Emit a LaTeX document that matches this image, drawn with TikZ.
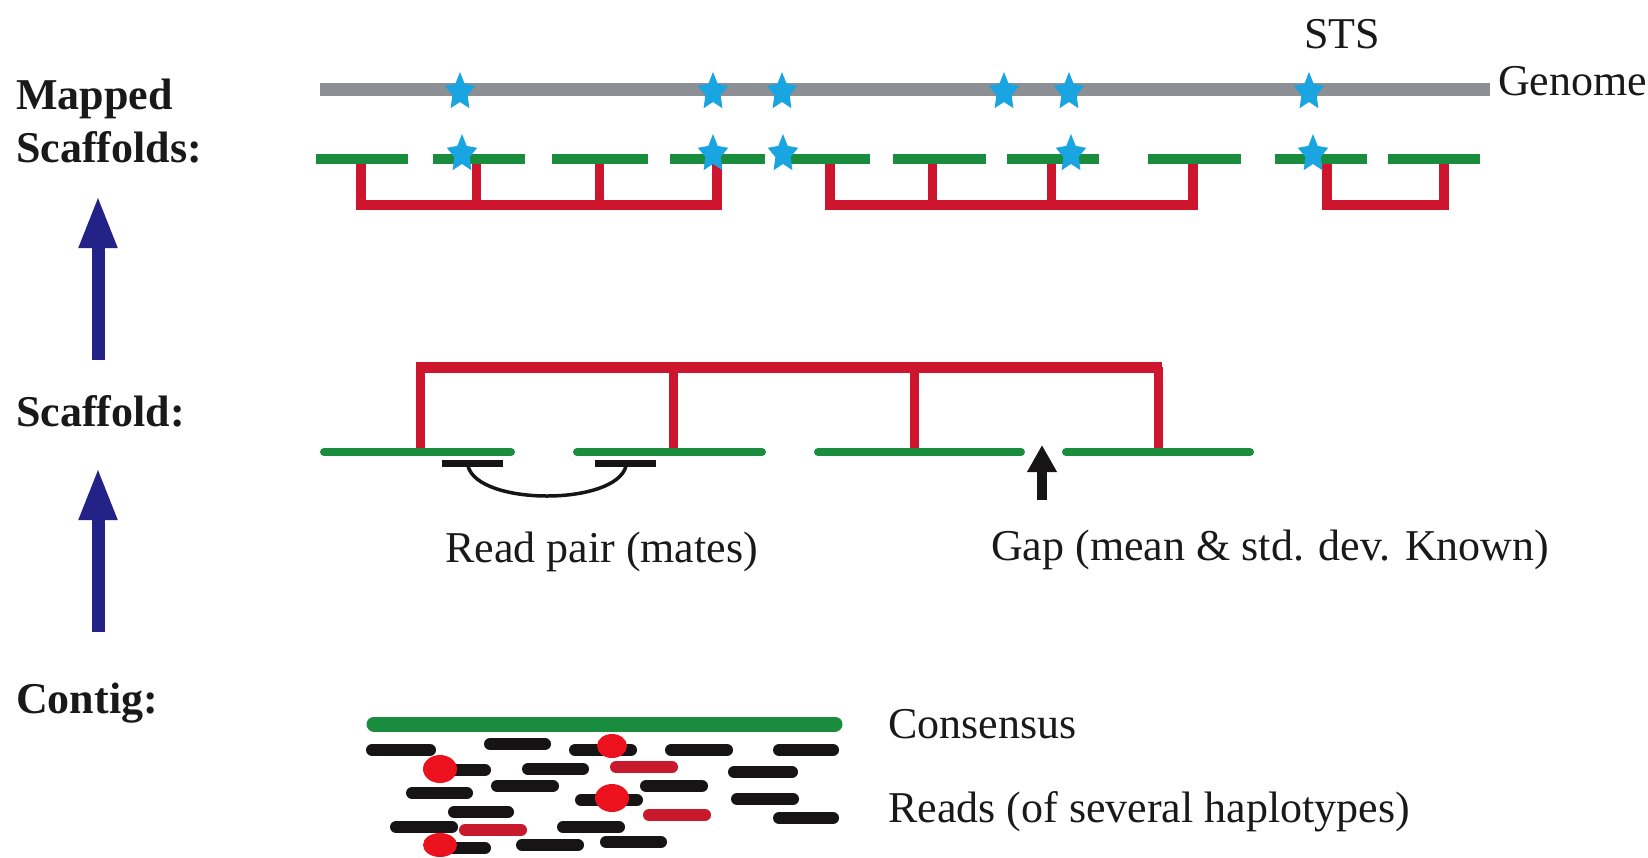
\documentclass[tikz,border=0pt]{standalone}
\usepackage{fontspec}
\setmainfont{Liberation Serif}
\usetikzlibrary{arrows.meta}
\definecolor{genomegray}{RGB}{140,143,148}
\definecolor{contiggreen}{RGB}{25,140,62}
\definecolor{linkred}{RGB}{205,22,45}
\definecolor{starblue}{RGB}{25,165,225}
\definecolor{navyblue}{RGB}{35,35,135}
\definecolor{readblack}{RGB}{22,20,20}
\definecolor{readred}{RGB}{200,25,45}
\definecolor{dotred}{RGB}{235,18,30}
\definecolor{textblack}{RGB}{25,25,25}
\tikzset{
  pics/ststar/.style={code={
    \fill[starblue] (-90:1) -- (-54:0.5) -- (-18:1) -- (18:0.5) -- (54:1)
      -- (90:0.5) -- (126:1) -- (162:0.5) -- (198:1) -- (234:0.5) -- cycle;}},
  txt/.style={inner sep=0pt, anchor=base west, font=\fontsize{44}{53}\selectfont, text=textblack},
  btxt/.style={txt, font=\fontsize{44}{53}\selectfont\bfseries},
  genomeline/.style={line width=13pt, draw=genomegray},
  segtop/.style={line width=10pt, draw=contiggreen},
  segmid/.style={line width=8pt, draw=contiggreen, line cap=round},
  linkv/.style={line width=9pt, draw=linkred},
  linkh/.style={line width=10pt, draw=linkred, line join=miter},
  matebar/.style={line width=7pt, draw=readblack},
  readk/.style={line width=12pt, draw=readblack, line cap=round},
  readr/.style={line width=12pt, draw=readred, line cap=round},
  reddot/.style={fill=dotred},
  uparrow/.style={line width=13pt, draw=navyblue, -{Triangle[length=53pt,width=35pt]}},
  gaparrow/.style={line width=10pt, draw=readblack, -{Triangle[length=27pt,width=28pt]}},
}
\begin{document}
\begin{tikzpicture}[x=1pt,y=-1pt]
\useasboundingbox (0,0) rectangle (1648,857);

% ---------- left labels ----------
\node[btxt] (mapped) at (16,109) {Mapped};
\node[btxt] (mappedscaf) at (16,162) {Scaffolds:};
\node[btxt] (scaffold) at (16,426) {Scaffold:};
\node[btxt] (contig) at (16,713) {Contig:};

\coordinate (up1s) at (98,360);
\coordinate (up1e) at (98,195);
\coordinate (up2s) at (98,632);
\coordinate (up2e) at (98,467);
\draw[uparrow] (up1s) -- (up1e);
\draw[uparrow] (up2s) -- (up2e);

% ---------- mapped scaffolds ----------
\node[txt, anchor=base] (sts) at (1342,48) {STS};
\coordinate (gs) at (320,89);
\coordinate (ge) at (1490,89);
\draw[genomeline] (gs) -- (ge);
\node[txt] (genome) at (1498,95) {Genome};

% links (red brackets)
\draw[linkh] (361,158) -- (361,205) -- (717,205) -- (717,158);
\draw[linkv] (476,158) -- (476,205);
\draw[linkv] (599,158) -- (599,205);
\draw[linkh] (830,158) -- (830,205) -- (1193,205) -- (1193,158);
\draw[linkv] (932,158) -- (932,205);
\draw[linkv] (1051,158) -- (1051,205);
\draw[linkh] (1327,158) -- (1327,205) -- (1444,205) -- (1444,158);

% contig segments
\foreach \a/\b in {316/408,433/525,552/648,670/765,785/870,893/986,1007/1099,1148/1241,1275/1367,1388/1480}
  \draw[segtop] (\a,159) -- (\b,159);

% STS stars
\foreach \x in {460,713,782,1004,1069,1309}
  \pic[xscale=16,yscale=20] at (\x,92) {ststar};
\foreach \x in {462,713,783,1071,1313}
  \pic[xscale=16,yscale=20] at (\x,154) {ststar};

% ---------- scaffold ----------
\draw[linkv] (420,452) -- (420,367);
\draw[linkv] (673,452) -- (673,367);
\draw[linkv] (914,452) -- (914,367);
\draw[linkv] (1158,452) -- (1158,367);
\draw[line width=11pt, draw=linkred, line join=round, line cap=butt] (416,367) -- (1162,367);

\draw[segmid] (324,452) -- (511,452);
\draw[segmid] (577,452) -- (762,452);
\draw[segmid] (818,452) -- (1021,452);
\draw[segmid] (1066,452) -- (1250,452);

% read pair
\coordinate (m1s) at (442,463);
\coordinate (m1e) at (503,463);
\coordinate (m2s) at (595,463);
\coordinate (m2e) at (656,463);
\draw[matebar] (m1s) -- (m1e);
\draw[matebar] (m2s) -- (m2e);
\coordinate (arcA) at (468,466);
\coordinate (arcB) at (626,466);
\draw[line width=3.5pt, draw=readblack] (arcA) .. controls (478,506) and (616,506) .. (arcB);
\node[txt] (readpair) at (445,562) {Read pair (mates)};

% gap
\coordinate (gapS) at (1042,500);
\coordinate (gapE) at (1042,445);
\draw[gaparrow] (gapS) -- (gapE);
\node[txt] (gap) at (991,560) {Gap (mean \& std. dev. Known)};

% ---------- contig ----------
\draw[line width=15pt, draw=contiggreen, line cap=round] (374,724) -- (835,724);
\node[txt] (consensus) at (888,738) {Consensus};
\node[txt] (reads) at (888,822) {Reads (of several haplotypes)};

\foreach \a/\b/\y in {366/436/750,484/551/744,569/637/750,665/733/750,773/839/750,
  445/491/770,522/589/769,728/798/772,406/473/793,491/559/786,640/708/786,
  575/643/800,731/799/799,448/514/812,773/839/818,390/458/827,557/625/827,
  600/667/842,445/491/848,516/584/845}
  \draw[readk] (\a+6,\y) -- (\b-6,\y);
\foreach \a/\b/\y in {610/678/767,643/711/815,459/527/830}
  \draw[readr] (\a+6,\y) -- (\b-6,\y);

\fill[reddot] (612,746) ellipse [x radius=15, y radius=12];
\fill[reddot] (440,769) ellipse [x radius=17, y radius=14];
\fill[reddot] (612,798) ellipse [x radius=17, y radius=14];
\fill[reddot] (440,845) ellipse [x radius=17, y radius=12];
\end{tikzpicture}
\end{document}
